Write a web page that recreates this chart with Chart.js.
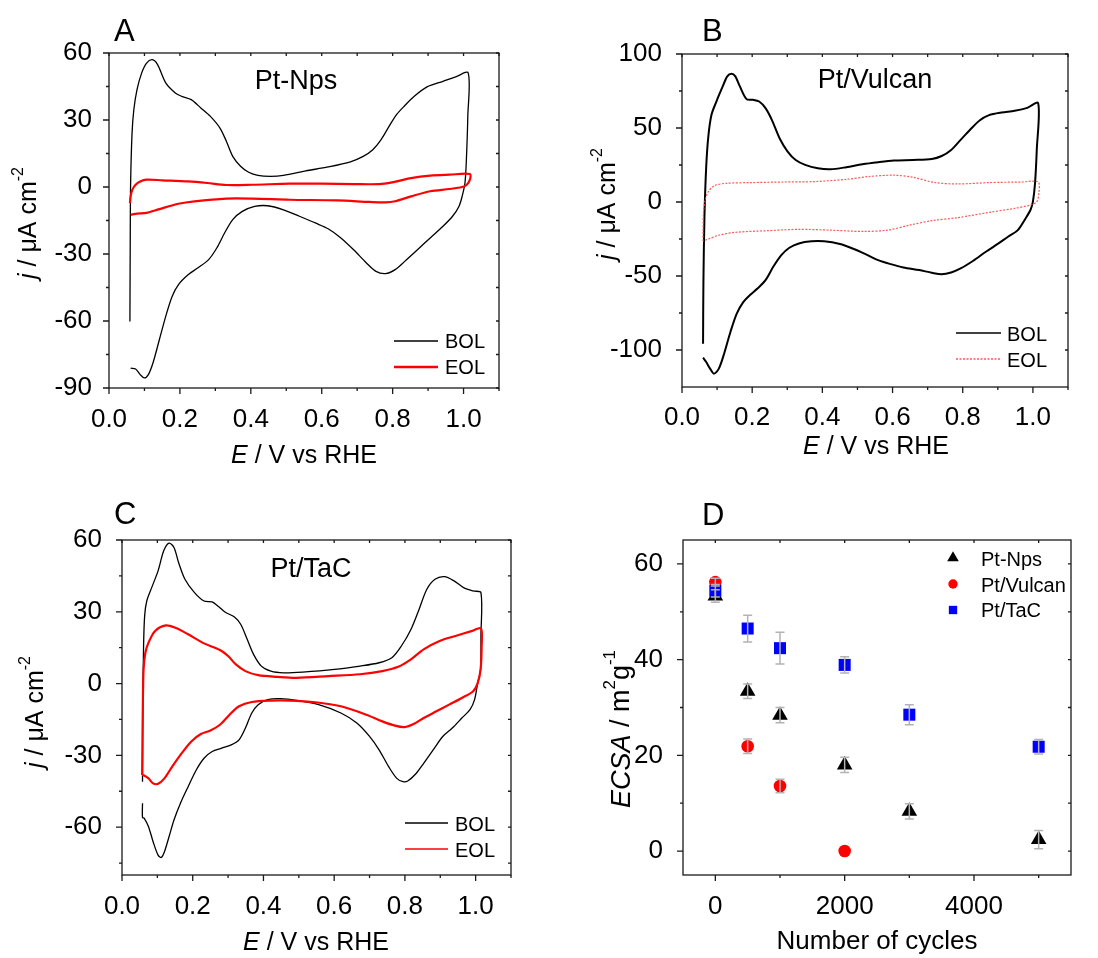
<!DOCTYPE html>
<html lang="en">
<head>
  <meta charset="UTF-8" />
  <title>Pt catalysts: CV before/after cycling and ECSA loss</title>
  <script src="https://cdn.jsdelivr.net/npm/chart.js"></script>
  <style>
    body {
      margin: 0;
      background: #fff;
    }

    .figure {
      position: relative;
      width: 1098px;
      height: 958px;
    }

    .panel {
      position: absolute;
      width: 549px;
      height: 479px;
    }

    .panel canvas {
      display: block;
    }
  </style>
</head>
<body>
  <div class="figure">
    <div class="panel" style="left:0;top:0"><canvas id="chartA" width="549" height="479"></canvas></div>
    <div class="panel" style="left:549px;top:0"><canvas id="chartB" width="549" height="479"></canvas></div>
    <div class="panel" style="left:0;top:479px"><canvas id="chartC" width="549" height="479"></canvas></div>
    <div class="panel" style="left:549px;top:479px"><canvas id="chartD" width="549" height="479"></canvas></div>
  </div>

  <script>
    // ---- A: Pt-Nps (E in V vs RHE, j in uA cm-2) ----
    const aBolE = [0.059, 0.060, 0.061, 0.065, 0.070, 0.079, 0.092, 0.106, 0.122, 0.137, 0.160, 0.187, 0.205, 0.232, 0.259, 0.286, 0.313, 0.331, 0.349, 0.371, 0.394, 0.420, 0.456, 0.492, 0.555, 0.618, 0.681, 0.717, 0.744, 0.766, 0.789, 0.811, 0.834, 0.861, 0.897, 0.942, 0.978, 1.013,
      1.012, 1.008, 1.004, 0.996, 0.987, 0.969, 0.942, 0.906, 0.870, 0.834, 0.807, 0.780, 0.753, 0.726, 0.690, 0.654, 0.618, 0.582, 0.537, 0.492, 0.447, 0.411, 0.376, 0.349, 0.326, 0.304, 0.281, 0.250, 0.223, 0.196, 0.178, 0.160, 0.142, 0.124, 0.111, 0.100, 0.088, 0.075, 0.061];
    const aBolJ = [-60.2, -20, 1.8, 24, 34.6, 43.6, 51, 55.5, 57, 54.8, 46.6, 42.1, 40.6, 39.1, 35.4, 31.6, 26.4, 20.5, 13.7, 9.3, 6.6, 5.2, 4.8, 5.2, 7.2, 9.0, 11.3, 13.7, 16.7, 20.9, 26.9, 32.4, 36.4, 40.6, 44.8, 47.3, 49.3, 51.1,
      31.6, 12.2, 1.8, -4.2, -8.7, -13.1, -17.6, -22.8, -28.1, -33.3, -37, -38.8, -37.8, -34.0, -28.1, -22.8, -18.7, -16.1, -13.1, -10.2, -8.4, -8.7, -10.9, -14.6, -20.6, -27.3, -32.5, -36.3, -39.3, -43.7, -49, -57.9, -68.4, -78.8, -84, -85.5, -84, -81.5, -81.1];
    const aEolE = [0.059, 0.061, 0.066, 0.075, 0.088, 0.106, 0.151, 0.223, 0.277, 0.331, 0.403, 0.510, 0.600, 0.690, 0.762, 0.798, 0.852, 0.906, 0.960, 1.018,
      1.018, 1.009, 0.996, 0.960, 0.906, 0.852, 0.807, 0.780, 0.735, 0.645, 0.510, 0.403, 0.331, 0.241, 0.196, 0.142, 0.106, 0.079, 0.061];
    const aEolJ = [-7.2, -4.2, -1.2, 1, 2.5, 3.3, 3.0, 2.5, 1.8, 0.9, 1.0, 1.5, 1.5, 1.3, 1.3, 2.1, 4.0, 5.1, 5.5, 5.8,
      3.3, 1.0, 0, -0.9, -1.9, -4.2, -6.4, -6.9, -6.7, -6.0, -5.7, -5.2, -5.2, -6.4, -7.5, -9.9, -11.6, -11.9, -12.4];

    // ---- B: Pt/Vulcan ----
    const bBolE = [0.060, 0.061, 0.064, 0.069, 0.075, 0.084, 0.098, 0.116, 0.129, 0.141, 0.152, 0.165, 0.184, 0.202, 0.220, 0.238, 0.256, 0.278, 0.301, 0.324, 0.351, 0.387, 0.423, 0.468, 0.514, 0.559, 0.604, 0.658, 0.712, 0.740, 0.767, 0.794, 0.821, 0.848, 0.875, 0.911, 0.948, 0.984, 1.015,
      1.011, 1.006, 1.000, 0.993, 0.979, 0.957, 0.929, 0.902, 0.866, 0.830, 0.794, 0.767, 0.740, 0.712, 0.676, 0.631, 0.595, 0.559, 0.523, 0.486, 0.450, 0.405, 0.369, 0.333, 0.306, 0.283, 0.260, 0.238, 0.215, 0.193, 0.175, 0.156, 0.138, 0.120, 0.105, 0.091, 0.080, 0.069, 0.060];
    const bBolJ = [-95.7, -55, -9.9, 23.9, 44.2, 58.9, 67.9, 78.1, 84.9, 86.7, 84.9, 78.1, 69.5, 69.1, 67.9, 63.4, 55.5, 43.1, 34.1, 28.4, 25.1, 22.8, 22.1, 23.5, 25.5, 26.9, 28.0, 28.4, 29.1, 31.1, 35.2, 42.0, 48.8, 55.1, 58.7, 60.5, 61.6, 63.6, 66.8,
      35.2, 12.6, 0.2, -5.4, -11.1, -19, -23.5, -28, -33.6, -39.7, -44.9, -47.6, -48.8, -47.8, -46.0, -44.2, -42.0, -39.3, -35.2, -31.4, -28.4, -26.6, -26.6, -28.0, -30.9, -35.9, -43.8, -52.8, -58.5, -63.0, -67.5, -75.4, -87.8, -102.5, -112.6, -116, -112.6, -108.1, -105.2];
    const bEolE = [0.060, 0.060, 0.061, 0.066, 0.075, 0.093, 0.125, 0.197, 0.288, 0.378, 0.468, 0.532, 0.604, 0.658, 0.722, 0.785, 0.875, 0.966, 1.015,
      1.017, 1.011, 0.993, 0.948, 0.875, 0.785, 0.712, 0.649, 0.586, 0.514, 0.423, 0.333, 0.242, 0.152, 0.107, 0.080, 0.060];
    const bEolJ = [-26.4, -20.1, -7.7, 1.4, 7.0, 11.1, 12.6, 13.1, 13.5, 13.8, 15.3, 17.2, 18.1, 16.7, 13.1, 12.2, 13.1, 13.5, 13.5,
      5.9, 0.2, -2.0, -4.3, -7.0, -10.6, -12.6, -15.6, -19.0, -19.9, -19.0, -18.5, -19.4, -20.5, -22.3, -24.6, -26.4];

    // ---- C: Pt/TaC ----
    const cBolE = [0.058, 0.059, 0.061, 0.064, 0.070, 0.084, 0.102, 0.118, 0.133, 0.147, 0.160, 0.178, 0.205, 0.232, 0.255, 0.273, 0.291, 0.318, 0.336, 0.354, 0.372, 0.394, 0.421, 0.457, 0.511, 0.601, 0.673, 0.727, 0.763, 0.790, 0.817, 0.840, 0.862, 0.885, 0.912, 0.939, 0.966, 0.993, 1.015,
      1.015, 1.014, 1.006, 0.997, 0.984, 0.961, 0.934, 0.907, 0.880, 0.853, 0.831, 0.808, 0.795, 0.777, 0.754, 0.727, 0.700, 0.664, 0.619, 0.556, 0.493, 0.448, 0.412, 0.385, 0.367, 0.349, 0.331, 0.309, 0.282, 0.255, 0.232, 0.210, 0.187, 0.165, 0.147, 0.133, 0.120, 0.111, 0.102, 0.088, 0.075, 0.063, 0.058, 0.058];
    const cBolJ = [-41, -8.1, 15.7, 28.2, 34.5, 40.1, 47.1, 55.5, 58.7, 56.9, 50.6, 43.6, 38.0, 34.5, 34.1, 32.2, 29.9, 27.8, 24.7, 18.5, 12.2, 7.3, 5.2, 4.5, 4.8, 5.9, 7.3, 8.7, 10.8, 15.7, 22.6, 31.0, 39.4, 43.6, 44.7, 42.9, 40.1, 38.7, 38.0,
      19.9, 5.9, 0.3, -6.7, -10.9, -14.4, -18.6, -22.1, -27.7, -33.3, -37.7, -40.7, -41.0, -39.6, -34.7, -27.7, -22.1, -16.5, -12.3, -8.8, -7.0, -6.3, -6.7, -8.8, -12.3, -18.6, -23.5, -25.6, -27.0, -28.4, -31.2, -36.1, -43.1, -50.1, -57.0, -64.0, -70.3, -72.7, -71.7, -66.1, -59.8, -56.3, -55.9, -50];
    const cEolE = [0.057, 0.059, 0.061, 0.066, 0.075, 0.093, 0.124, 0.151, 0.187, 0.232, 0.277, 0.300, 0.322, 0.349, 0.385, 0.439, 0.493, 0.583, 0.673, 0.736, 0.781, 0.817, 0.853, 0.898, 0.943, 0.988, 1.015,
      1.017, 1.014, 1.006, 0.993, 0.961, 0.925, 0.889, 0.853, 0.826, 0.799, 0.772, 0.736, 0.691, 0.619, 0.547, 0.475, 0.421, 0.367, 0.331, 0.304, 0.277, 0.250, 0.223, 0.196, 0.169, 0.142, 0.120, 0.102, 0.088, 0.075, 0.061, 0.057];
    const cEolJ = [-38.2, -8.1, 5.9, 12.9, 17.1, 21.9, 24.3, 23.3, 20.6, 16.8, 14.0, 11.5, 8.0, 5.2, 3.5, 2.8, 2.4, 3.1, 3.9, 5.2, 7.0, 10.1, 14.3, 17.8, 19.9, 21.9, 23.1,
      15.7, 5.9, 0.3, -3.2, -6.0, -8.8, -11.6, -14.4, -16.8, -18.2, -17.6, -15.8, -13.0, -9.5, -7.8, -7.1, -7.1, -7.7, -9.5, -13.0, -17.2, -19.6, -21.1, -24.2, -29.1, -34.7, -39.6, -41.9, -41.7, -39.6, -38.3, -38.2];

    // ---- D: ECSA vs number of cycles (m2 g-1) ----
    const cycles = [0, 500, 1000, 2000, 3000, 5000];
    const ptNpsEcsa = [53.3, 33.4, 28.4, 18.0, 8.3, 2.4];
    const ptNpsErr = [1.3, 1.5, 1.6, 1.6, 1.6, 1.9];
    const vulcanCycles = [0, 500, 1000, 2000];
    const vulcanEcsa = [56.2, 21.9, 13.6, 0];
    const vulcanErr = [0.8, 1.5, 1.4, 0];
    const tacEcsa = [54.4, 46.5, 42.4, 38.9, 28.5, 21.8];
    const tacErr = [1.3, 2.8, 3.3, 1.7, 2.1, 1.5];

    // tick positions (all) and the ones that carry a label
    const cvXTicks = [0, 0.1, 0.2, 0.3, 0.4, 0.5, 0.6, 0.7, 0.8, 0.9, 1.0, 1.1];
    const cvXLabels = [0, 0.2, 0.4, 0.6, 0.8, 1.0];
    const aYTicks = [-90, -75, -60, -45, -30, -15, 0, 15, 30, 45, 60];
    const aYLabels = [-90, -60, -30, 0, 30, 60];
    const bYTicks = [-100, -75, -50, -25, 0, 25, 50, 75, 100];
    const bYLabels = [-100, -50, 0, 50, 100];
    const cYTicks = [-75, -60, -45, -30, -15, 0, 15, 30, 45, 60];
    const cYLabels = [-60, -30, 0, 30, 60];
    const dXTicks = [0, 1000, 2000, 3000, 4000, 5000];
    const dXLabels = [0, 2000, 4000];
    const dYTicks = [0, 10, 20, 30, 40, 50, 60];
    const dYLabels = [0, 20, 40, 60];

    const FAMILY = '"Liberation Sans", Arial, Helvetica, sans-serif';
    const W = 549, H = 479;
    const pts = (xs, ys) => xs.map((v, i) => ({ x: v, y: ys[i] }));

    const cvTitle = [{ t: 'E', i: true }, { t: ' / V vs RHE' }];
    const jTitle = [{ t: 'j', i: true }, { t: ' / \u03bcA cm' }, { t: '-2', sup: true }];

    // mixed italic / superscript text, centred on (x, y)
    function richText(ctx, parts, x, y, size, rotate) {
      ctx.save();
      ctx.translate(x, y);
      if (rotate) ctx.rotate(-Math.PI / 2);
      ctx.textBaseline = 'middle';
      ctx.textAlign = 'left';
      ctx.fillStyle = '#000';
      const fontOf = p => (p.i ? 'italic ' : '') + (p.sup ? Math.round(size * 0.62) : size) + 'px ' + FAMILY;
      let w = 0;
      parts.forEach(p => { ctx.font = fontOf(p); w += ctx.measureText(p.t).width; });
      let cx = -w / 2;
      parts.forEach(p => {
        ctx.font = fontOf(p);
        ctx.fillText(p.t, cx, p.sup ? -size * 0.42 : 0);
        cx += ctx.measureText(p.t).width;
      });
      ctx.restore();
    }

    function marker(ctx, style, x, y, r) {
      ctx.beginPath();
      if (style === 'triangle') {
        ctx.moveTo(x, y - r);
        ctx.lineTo(x + r * 0.866, y + r * 0.5);
        ctx.lineTo(x - r * 0.866, y + r * 0.5);
        ctx.closePath();
      } else if (style === 'circle') {
        ctx.arc(x, y, r, 0, Math.PI * 2);
      } else {
        const s = r * Math.SQRT1_2;
        ctx.rect(x - s, y - s, 2 * s, 2 * s);
      }
      ctx.fill();
    }

    // frame, tick marks, error bars, titles and legend
    function decor(p) {
      return {
        id: 'decor',
        afterDatasetsDraw(chart) {
          const { ctx, chartArea: a, scales: { x, y } } = chart;
          ctx.save();
          if (p.errors) {
            ctx.strokeStyle = '#b3b3b3';
            ctx.lineWidth = 1.5;
            p.errors.forEach(e => e.x.forEach((cx, i) => {
              if (!e.err[i]) return;
              const px = x.getPixelForValue(cx);
              const top = y.getPixelForValue(e.y[i] + e.err[i]);
              const bot = y.getPixelForValue(e.y[i] - e.err[i]);
              ctx.beginPath();
              ctx.moveTo(px, top); ctx.lineTo(px, bot);
              ctx.moveTo(px - 4.5, top); ctx.lineTo(px + 4.5, top);
              ctx.moveTo(px - 4.5, bot); ctx.lineTo(px + 4.5, bot);
              ctx.stroke();
            }));
          }
          ctx.strokeStyle = '#1a1a1a';
          ctx.lineWidth = 1.3;
          ctx.strokeRect(a.left, a.top, a.right - a.left, a.bottom - a.top);
          ctx.beginPath();
          p.xTicks.forEach(v => {
            const px = x.getPixelForValue(v);
            const len = p.xLabels.includes(v) ? 6 : 3;
            ctx.moveTo(px, a.bottom); ctx.lineTo(px, a.bottom + len);
            ctx.moveTo(px, a.top); ctx.lineTo(px, a.top + 3);
          });
          p.yTicks.forEach(v => {
            const py = y.getPixelForValue(v);
            const len = p.yLabels.includes(v) ? 6 : 3;
            ctx.moveTo(a.left, py); ctx.lineTo(a.left - len, py);
            ctx.moveTo(a.right, py); ctx.lineTo(a.right - 3, py);
          });
          ctx.stroke();
          ctx.restore();
        },
        afterDraw(chart) {
          const ctx = chart.ctx;
          ctx.save();
          ctx.fillStyle = '#000';
          ctx.textBaseline = 'alphabetic';
          ctx.textAlign = 'left';
          ctx.font = '31px ' + FAMILY;
          ctx.fillText(p.letter.t, p.letter.x, p.letter.y);
          if (p.inset) {
            ctx.textAlign = 'center';
            ctx.font = '27px ' + FAMILY;
            ctx.fillText(p.inset.t, p.inset.x, p.inset.y);
          }
          ctx.restore();

          richText(ctx, p.xTitle.parts, p.xTitle.x, p.xTitle.y, p.titleSize, false);
          richText(ctx, p.yTitle.parts, p.yTitle.x, p.yTitle.y, p.yTitle.size || p.titleSize, true);

          // legend built from the dataset labels
          const lg = p.legend;
          ctx.save();
          ctx.font = '20px ' + FAMILY;
          ctx.textBaseline = 'alphabetic';
          chart.data.datasets.forEach((ds, i) => {
            if (lg.marker) {
              ctx.fillStyle = ds.backgroundColor;
              marker(ctx, ds.pointStyle, lg.x1, lg.rowY[i], lg.marker[i]);
            } else {
              ctx.strokeStyle = ds.borderColor;
              ctx.lineWidth = ds.legendWidth || ds.borderWidth;
              ctx.setLineDash(ds.borderDash || []);
              ctx.beginPath();
              ctx.moveTo(lg.x1, lg.rowY[i]);
              ctx.lineTo(lg.x2, lg.rowY[i]);
              ctx.stroke();
              ctx.setLineDash([]);
            }
            ctx.fillStyle = '#000';
            ctx.fillText(ds.label, lg.textX, lg.textY[i]);
          });
          ctx.restore();
        }
      };
    }

    function makePanel(id, p) {
      const fmt = p.fmt || (v => String(v));
      const tickFont = { family: FAMILY, size: p.tickSize };
      return new Chart(document.getElementById(id), {
        type: 'scatter',
        data: { datasets: p.datasets },
        options: {
          responsive: false,
          animation: false,
          events: [],
          layout: { padding: { left: 0, top: p.area.top, right: W - p.area.right, bottom: 0 } },
          plugins: { legend: { display: false }, tooltip: { enabled: false } },
          elements: { line: { tension: 0.3 } },
          scales: {
            x: {
              type: 'linear',
              min: p.xMin,
              max: p.xMax,
              grid: { display: false },
              border: { display: false },
              afterBuildTicks: s => { s.ticks = p.xTicks.map(v => ({ value: v })); },
              afterFit: s => { s.height = H - p.area.bottom; },
              ticks: {
                autoSkip: false, maxRotation: 0, padding: p.xPad, color: '#000', font: tickFont,
                callback: v => p.xLabels.includes(v) ? fmt(v) : ''
              }
            },
            y: {
              type: 'linear',
              min: p.yMin,
              max: p.yMax,
              grid: { display: false },
              border: { display: false },
              afterBuildTicks: s => { s.ticks = p.yTicks.map(v => ({ value: v })); },
              afterFit: s => { s.width = p.area.left; },
              ticks: {
                autoSkip: false, padding: p.yPad, color: '#000', font: tickFont,
                callback: v => p.yLabels.includes(v) ? String(v) : ''
              }
            }
          }
        },
        plugins: [decor(p)]
      });
    }

    const cvLine = (label, e, j, color, width, extra) => Object.assign({
      label: label, data: pts(e, j), showLine: true, pointRadius: 0,
      borderColor: color, borderWidth: width, backgroundColor: color
    }, extra || {});

    makePanel('chartA', {
      area: { left: 109, top: 53, right: 499, bottom: 388 },
      xMin: 0, xMax: 1.1, yMin: -90, yMax: 60,
      xTicks: cvXTicks, xLabels: cvXLabels, yTicks: aYTicks, yLabels: aYLabels,
      fmt: v => v.toFixed(1), tickSize: 26, titleSize: 25, xPad: 8, yPad: 9,
      datasets: [
        cvLine('BOL', aBolE, aBolJ, '#000', 1.3, { order: 2, legendWidth: 1.6 }),
        cvLine('EOL', aEolE, aEolJ, '#ff0000', 2.2, { order: 1, legendWidth: 2.6 })
      ],
      letter: { t: 'A', x: 114, y: 41 },
      inset: { t: 'Pt-Nps', x: 296, y: 89 },
      xTitle: { parts: cvTitle, x: 304, y: 456 },
      yTitle: { parts: jTitle, x: 29, y: 223 },
      legend: { x1: 394, x2: 438, rowY: [341, 367], textX: 445, textY: [348, 374] }
    });

    makePanel('chartB', {
      area: { left: 133, top: 54, right: 519, bottom: 387 },
      xMin: 0, xMax: 1.1, yMin: -125, yMax: 100,
      xTicks: cvXTicks, xLabels: cvXLabels, yTicks: bYTicks, yLabels: bYLabels,
      fmt: v => v.toFixed(1), tickSize: 26, titleSize: 25, xPad: 7, yPad: 12,
      datasets: [
        cvLine('BOL', bBolE, bBolJ, '#000', 2, { order: 2, legendWidth: 1.6 }),
        cvLine('EOL', bEolE, bEolJ, 'rgba(255,70,70,0.9)', 1.2, { order: 1, borderDash: [2, 1.5], legendWidth: 1.6 })
      ],
      letter: { t: 'B', x: 153, y: 41 },
      inset: { t: 'Pt/Vulcan', x: 326, y: 88 },
      xTitle: { parts: cvTitle, x: 327, y: 447 },
      yTitle: { parts: jTitle, x: 59, y: 204 },
      legend: { x1: 407, x2: 452, rowY: [333, 359], textX: 458, textY: [341, 367] }
    });

    makePanel('chartC', {
      area: { left: 122, top: 61, right: 511, bottom: 396 },
      xMin: 0, xMax: 1.1, yMin: -80, yMax: 60,
      xTicks: cvXTicks, xLabels: cvXLabels, yTicks: cYTicks, yLabels: cYLabels,
      fmt: v => v.toFixed(1), tickSize: 26, titleSize: 25, xPad: 8, yPad: 12,
      datasets: [
        cvLine('BOL', cBolE, cBolJ, '#000', 1.3, { order: 2, legendWidth: 1.6 }),
        cvLine('EOL', cEolE, cEolJ, '#ff0000', 2.2, { order: 1, legendWidth: 1.6 })
      ],
      letter: { t: 'C', x: 114, y: 45 },
      inset: { t: 'Pt/TaC', x: 311, y: 98 },
      xTitle: { parts: cvTitle, x: 316, y: 464 },
      yTitle: { parts: jTitle, x: 36, y: 233 },
      legend: { x1: 405, x2: 448, rowY: [344, 370], textX: 455, textY: [352, 378] }
    });

    makePanel('chartD', {
      area: { left: 134, top: 61, right: 522, bottom: 396 },
      xMin: -500, xMax: 5500, yMin: -5, yMax: 65,
      xTicks: dXTicks, xLabels: dXLabels, yTicks: dYTicks, yLabels: dYLabels,
      tickSize: 26, titleSize: 26, xPad: 8, yPad: 12,
      datasets: [
        { label: 'Pt-Nps', data: pts(cycles, ptNpsEcsa), pointStyle: 'triangle', pointRadius: 9, backgroundColor: '#000', borderColor: '#000', borderWidth: 0, order: 3 },
        { label: 'Pt/Vulcan', data: pts(vulcanCycles, vulcanEcsa), pointStyle: 'circle', pointRadius: 6.3, backgroundColor: '#ff0000', borderColor: '#ff0000', borderWidth: 0, order: 2 },
        { label: 'Pt/TaC', data: pts(cycles, tacEcsa), pointStyle: 'rect', pointRadius: 8.5, backgroundColor: '#0000ff', borderColor: '#0000ff', borderWidth: 0, order: 1 }
      ],
      errors: [
        { x: cycles, y: ptNpsEcsa, err: ptNpsErr },
        { x: vulcanCycles, y: vulcanEcsa, err: vulcanErr },
        { x: cycles, y: tacEcsa, err: tacErr }
      ],
      letter: { t: 'D', x: 153, y: 46 },
      xTitle: { parts: [{ t: 'Number of cycles' }], x: 328, y: 463 },
      yTitle: { parts: [{ t: 'ECSA', i: true }, { t: ' / m' }, { t: '2', sup: true }, { t: 'g' }, { t: '-1', sup: true }], x: 73, y: 250, size: 27 },
      legend: { marker: [6.7, 4.7, 5.9], x1: 404, rowY: [79, 105, 131], textX: 432, textY: [87, 113, 138] }
    });
  </script>
</body>
</html>
